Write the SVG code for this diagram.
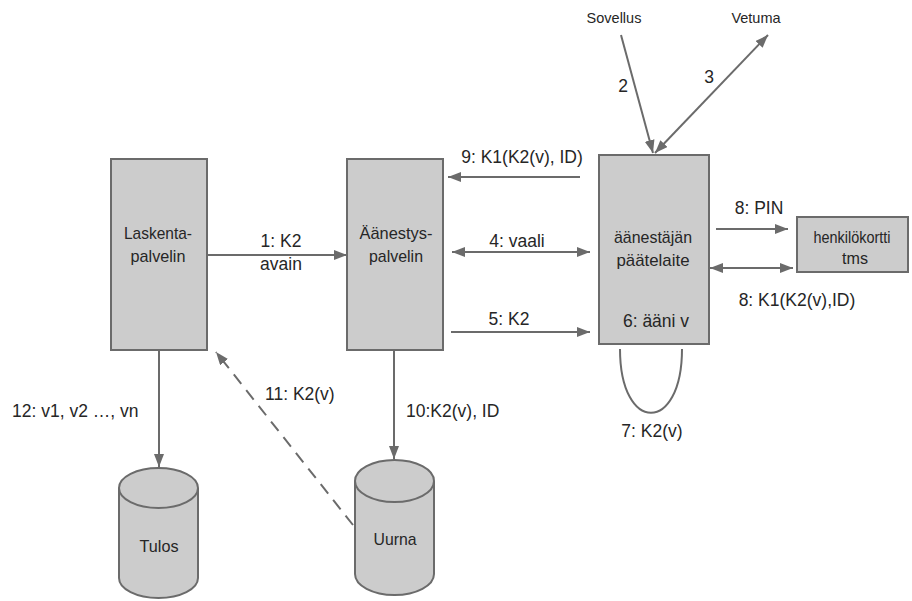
<svg xmlns="http://www.w3.org/2000/svg" width="912" height="601" viewBox="0 0 912 601">
<defs>
<style>
.box{fill:#cccccc;stroke:#6b6b6b;stroke-width:2}
.ln{fill:none;stroke:#6b6b6b;stroke-width:2}
.t{font-family:"Liberation Sans",Arial,sans-serif;fill:#262626;text-anchor:middle}
.n{font-size:17px}
.e{font-size:17.5px}
.s{font-size:14.5px}
.l{text-anchor:start}
</style>
<marker id="ah" markerUnits="userSpaceOnUse" markerWidth="14" markerHeight="12" refX="13" refY="5" orient="auto-start-reverse">
<path d="M0,0 L13,5 L0,10 z" fill="#6b6b6b"/>
</marker>
</defs>
<rect width="912" height="601" fill="#ffffff"/>
<g id="connectors">
<path class="ln" d="M207,255 L347,255" marker-end="url(#ah)"/>
<path class="ln" d="M580,177 L448,177" marker-end="url(#ah)"/>
<path class="ln" d="M452,252 L590,252" marker-start="url(#ah)" marker-end="url(#ah)"/>
<path class="ln" d="M451,332 L590,332" marker-end="url(#ah)"/>
<path class="ln" d="M716,229 L788,229" marker-end="url(#ah)"/>
<path class="ln" d="M710,268 L793,268" marker-start="url(#ah)" marker-end="url(#ah)"/>
<path class="ln" d="M620,349 C620,434 682,434 682,349"/>
<path class="ln" d="M621,35 L653,153" marker-end="url(#ah)"/>
<path class="ln" d="M655,153 L768,35" marker-start="url(#ah)" marker-end="url(#ah)"/>
<path class="ln" d="M159,350 L159,467" marker-end="url(#ah)"/>
<path class="ln" d="M394,350 L394,459" marker-end="url(#ah)"/>
<path class="ln" d="M353,525 L216,352" stroke-dasharray="12,8" marker-end="url(#ah)"/>
<text class="t e" x="281" y="247">1: K2</text>
<text class="t e" x="281" y="270">avain</text>
<text class="t e" x="522" y="163">9: K1(K2(v), ID)</text>
<text class="t e" x="517" y="247">4: vaali</text>
<text class="t e" x="509" y="325">5: K2</text>
<text class="t e" x="759" y="214">8: PIN</text>
<text class="t e" x="797" y="306">8: K1(K2(v),ID)</text>
<text class="t e" x="652" y="437">7: K2(v)</text>
<text class="t e" x="623" y="92">2</text>
<text class="t e" x="709" y="83">3</text>
<text class="t e l" x="12" y="417">12: v1, v2 …, vn</text>
<text class="t e l" x="406" y="417">10:K2(v), ID</text>
<text class="t e l" x="265" y="400">11: K2(v)</text>
</g>
<g id="laskenta">
<rect class="box" x="111" y="159" width="96" height="191"/>
<text class="t n" x="158" y="239" textLength="68" lengthAdjust="spacingAndGlyphs">Laskenta-</text>
<text class="t n" x="158" y="262" textLength="55" lengthAdjust="spacingAndGlyphs">palvelin</text>
</g>
<g id="aanestys">
<rect class="box" x="347" y="159" width="96" height="191"/>
<text class="t n" x="396" y="239" textLength="73" lengthAdjust="spacingAndGlyphs">Äänestys-</text>
<text class="t n" x="396" y="262" textLength="54" lengthAdjust="spacingAndGlyphs">palvelin</text>
</g>
<g id="paatelaite">
<rect class="box" x="599" y="155" width="110" height="189"/>
<text class="t n" x="653" y="243" textLength="78" lengthAdjust="spacingAndGlyphs">äänestäjän</text>
<text class="t n" x="653" y="266" textLength="73" lengthAdjust="spacingAndGlyphs">päätelaite</text>
<text class="t e" x="656" y="327">6: ääni v</text>
</g>
<g id="henkilokortti">
<rect class="box" x="797" y="217" width="111" height="55"/>
<text class="t n" x="852" y="243" textLength="77" lengthAdjust="spacingAndGlyphs">henkilökortti</text>
<text class="t n" x="855" y="264" textLength="26" lengthAdjust="spacingAndGlyphs">tms</text>
</g>
<g id="sovellus">
<text class="t s" x="614" y="23">Sovellus</text>
</g>
<g id="vetuma">
<text class="t s" x="756" y="23">Vetuma</text>
</g>
<g id="tulos">
<path class="box" d="M119,488 L119,578 A39.5,20 0 0 0 198,578 L198,488 A39.5,20 0 0 0 119,488 Z"/>
<path class="ln" d="M119,488 A39.5,20 0 0 0 198,488"/>
<text class="t n" x="159" y="552" textLength="39" lengthAdjust="spacingAndGlyphs">Tulos</text>
</g>
<g id="uurna">
<path class="box" d="M355,481 L355,574 A39.5,21 0 0 0 434,574 L434,481 A39.5,21 0 0 0 355,481 Z"/>
<path class="ln" d="M355,481 A39.5,21 0 0 0 434,481"/>
<text class="t n" x="395" y="545" textLength="43" lengthAdjust="spacingAndGlyphs">Uurna</text>
</g>
</svg>
